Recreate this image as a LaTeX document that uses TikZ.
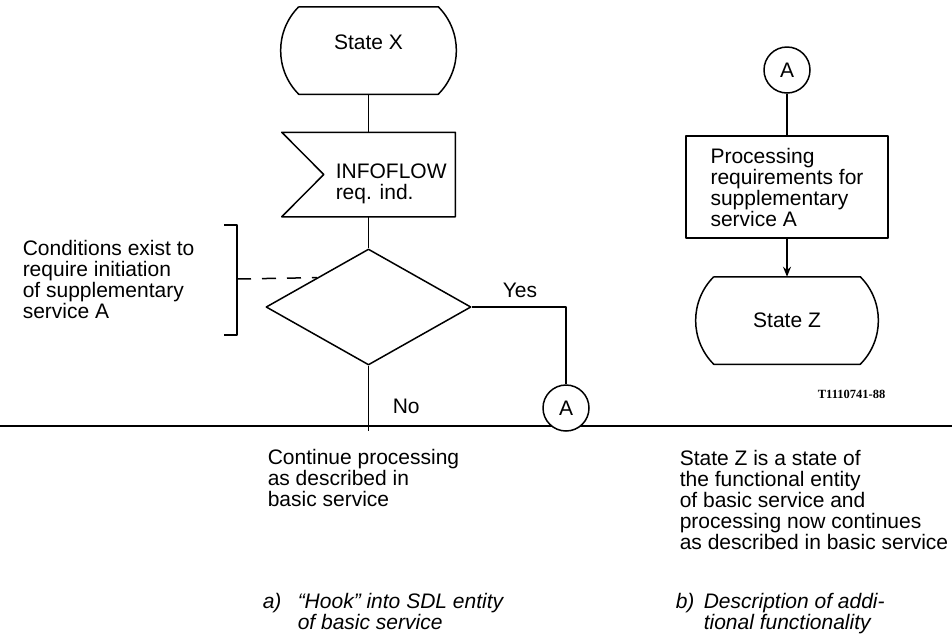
\documentclass[tikz,border=0pt]{standalone}
\usepackage{fontspec}
\setmainfont{Liberation Sans}
\newfontfamily\codefont{Liberation Serif}
\usetikzlibrary{shapes.geometric,arrows.meta}

\begin{document}
\begin{tikzpicture}[
        x=1pt, y=-1pt,
        >={Stealth[length=10pt,width=8pt]},
        line width=1.5pt, line join=round,
        font=\fontsize{21}{21}\selectfont,
        txt/.style={inner sep=0pt, anchor=north west, align=left},
        captxt/.style={txt, font=\fontsize{21}{21}\selectfont\itshape},
        statebox/.style={minimum width=#1, minimum height=86pt, inner sep=0pt},
        conn/.style={circle, draw, fill=white, minimum size=46pt, inner sep=0pt},
        ]
        \useasboundingbox (0,0) rectangle (952,638);
        % dividing rule
        \draw[line width=1.2pt] (0,426) -- (952,426);

        % a) hook into the basic service
        \node[statebox=138pt, text depth=17pt] (stx) at (368.5,50.5) {State X};
        \draw (stx.north west) -- (stx.north east) to[bend left=45] (stx.south east)
            -- (stx.south west) to[bend left=45] (stx.north west);
        \node[minimum width=172pt, minimum height=83pt, inner sep=0pt] (inf) at (368.5,174.5) {};
        \draw (inf.north west) -- (inf.north east) -- (inf.south east) -- (inf.south west)
            -- ([xshift=42pt]inf.west) -- cycle;
        \node[txt] (inftxt) at (335,163) {INFOFLOW\\req. ind.};
        \node[diamond, draw, minimum width=205pt, minimum height=116pt, inner sep=0pt] (dia) at (368.5,307) {};
        \node[conn] (ca) at (566,408) {A};
        \coordinate (noend) at (368.5,431);
        \draw (stx) -- (inf);
        \draw (inf) -- (dia);
        \draw (dia.east) -| (ca);
        \draw (dia.south) -- (noend);
        \node[inner sep=0pt, anchor=base west] (yes) at (502,297) {Yes};
        \node[inner sep=0pt, anchor=base west] (no) at (392,413) {No};

        % condition note with bracket
        \node[txt] (cond) at (22,240) {Conditions exist to\\require initiation\\of supplementary\\service A};
        \draw (224,225) -- (237,225) -- (237,335) -- (224,335);
        \coordinate (brk) at (237,279);
        \draw[dash pattern=on 14pt off 11pt] (brk) -- (dia.north west);

        % b) additional functionality
        \node[conn] (cb) at (787,70) {A};
        \node[draw, minimum width=202pt, minimum height=102pt, inner sep=0pt, align=left] (proc) at (787,187)
            {Processing\\requirements for\\supplementary\\service A};
        \node[statebox=145pt] (stz) at (787,320.5) {State Z};
        \draw (stz.north west) -- (stz.north east) to[bend left=45] (stz.south east)
            -- (stz.south west) to[bend left=45] (stz.north west);
        \draw (cb) -- (proc);
        \draw[->] (proc) -- (stz);
        \node[inner sep=0pt, anchor=base east, font=\codefont\bfseries\fontsize{12.5}{12.5}\selectfont] (tno) at (886,398) {T1110741-88};

        % texts below the rule
        \node[txt] (cont) at (267,449) {Continue processing\\as described in\\basic service};
        \node[txt] (zdesc) at (679,450) {State Z is a state of\\the functional entity\\of basic service and\\processing now continues\\as described in basic service};
        \node[captxt, anchor=base west] (capa) at (262,608) {a)};
        \node[captxt] (capatxt) at (297,593) {“Hook” into SDL entity\\of basic service};
        \node[captxt, anchor=base west] (capb) at (675,608) {b)};
        \node[captxt] (capbtxt) at (703,593) {Description of addi-\\tional functionality};
\end{tikzpicture}
\end{document}
